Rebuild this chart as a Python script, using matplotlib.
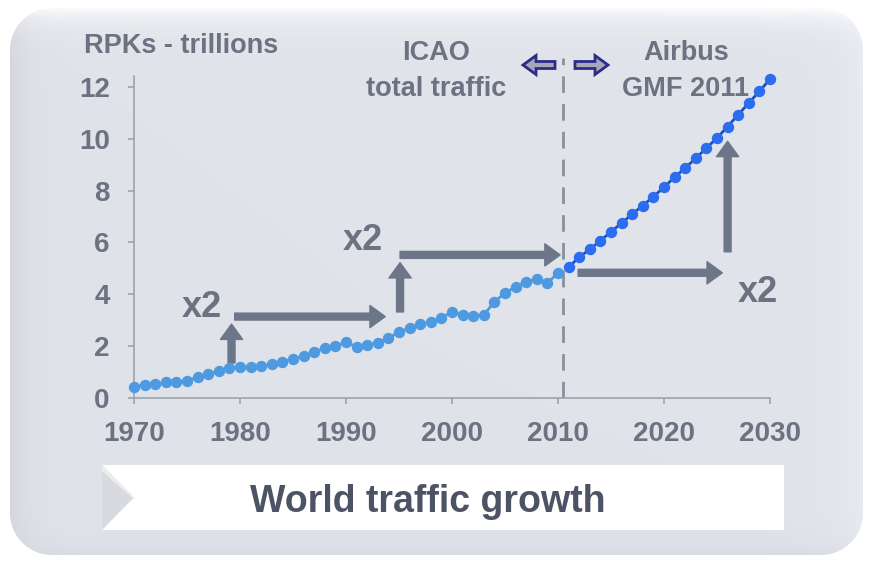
import numpy as np
import matplotlib
matplotlib.use("Agg")
import matplotlib.pyplot as plt
from matplotlib.patches import Polygon, Rectangle, FancyArrow

# ---------------- data ----------------
hist_years = list(range(1970, 2011))
hist_rpk = [0.43, 0.50, 0.55, 0.60, 0.63, 0.66, 0.80, 0.92, 1.05, 1.15,
            1.18, 1.20, 1.23, 1.30, 1.40, 1.52, 1.62, 1.78, 1.92, 2.00,
            2.15, 1.98, 2.05, 2.12, 2.33, 2.53, 2.70, 2.85, 2.93, 3.08,
            3.33, 3.20, 3.18, 3.20, 3.72, 4.04, 4.30, 4.49, 4.58, 4.45,
            4.81]
fc_years = list(range(2011, 2031))
fc_rpk = [5.05, 5.43, 5.74, 6.06, 6.42, 6.74, 7.10, 7.42, 7.77, 8.13,
          8.52, 8.87, 9.25, 9.64, 10.03, 10.47, 10.93, 11.38, 11.83, 12.30]
x_ticks = [1970, 1980, 1990, 2000, 2010, 2020, 2030]
y_ticks = [0, 2, 4, 6, 8, 10, 12]
y_label = "RPKs - trillions"
left_note = "ICAO\ntotal traffic"
right_note = "Airbus\nGMF 2011"
title = "World traffic growth"
factor_label = "x2"

FONT = ["Liberation Sans", "DejaVu Sans"]
GREY = "#6c7282"
ARROW = "#6d7588"

plt.rcParams["font.family"] = FONT
plt.rcParams["font.weight"] = "bold"

W, H = 870, 570
fig = plt.figure(figsize=(W / 100, H / 100), dpi=100)
fig.patch.set_facecolor("white")

# rounded panel with soft shading, placed pixel-for-pixel
px0, py0, pw, ph, rad = 10, 8, 853, 547, 42
yy, xx = np.mgrid[0:ph, 0:pw] + 0.5
base = np.array([224, 227, 233], float) / 255
img = np.ones((ph, pw, 3)) * base
top = np.exp(-yy / 14.0)[..., None]
img = img * (1 - top) + np.array([0.99, 0.99, 1.0]) * top
img = img - (np.exp(-xx / 18.0) * 0.05)[..., None]
img = img + (np.exp(-(pw - xx) / 25.0) * 0.03)[..., None]
img = img - (np.exp(-(ph - yy) / 12.0) * 0.03)[..., None]
img = np.clip(img, 0, 1)
cx = np.clip(xx, rad, pw - rad)
cy = np.clip(yy, rad, ph - rad)
dist = np.hypot(xx - cx, yy - cy)
alpha = np.clip(rad - dist + 0.5, 0, 1)
rgba = np.dstack([img, alpha])
fig.figimage(rgba, xo=px0, yo=H - py0 - ph, origin="upper", zorder=-1)

# ---------------- decorations (pixel coordinates) ----------------
bg = fig.add_axes([0, 0, 1, 1])
bg.set_xlim(0, W)
bg.set_ylim(H, 0)
bg.axis("off")

# title box
bx, by, bw, bh = 102, 465, 682, 65
bg.add_patch(Rectangle((bx, by), bw, bh, facecolor="white", edgecolor="none", zorder=2))
bg.add_patch(Polygon([(bx, by), (bx + 32, by + bh / 2), (bx, by + bh)],
                     closed=True, facecolor="#d9dadf", edgecolor="none", zorder=3))
bg.add_patch(Polygon([(bx, by), (bx + 32, by + bh / 2), (bx + 32, by + bh / 2 + 2), (bx, by + 6)],
                     closed=True, facecolor="#ececef", edgecolor="none", zorder=3))
bg.text(428, 512, title, ha="center", va="baseline", fontsize=27,
        fontweight="bold", color="#4c5364", zorder=4)

# header texts
bg.text(84, 53, y_label, ha="left", va="baseline", fontsize=19.5,
        fontweight="bold", color=GREY, zorder=4)
for i, line in enumerate(left_note.split("\n")):
    bg.text(436, 60 + 36 * i, line, ha="center", va="baseline", fontsize=19.5,
            fontweight="bold", color=GREY, zorder=4)
for i, line in enumerate(right_note.split("\n")):
    bg.text(686, 60 + 36 * i, line, ha="center", va="baseline", fontsize=19.5,
            fontweight="bold", color=GREY, zorder=4)

# small outlined direction arrows
for x0, dx in [(555, -32), (575, 33)]:
    bg.add_patch(FancyArrow(x0, 65, dx, 0, width=7, head_width=19, head_length=13,
                            length_includes_head=True, facecolor="#a6a8b8",
                            edgecolor="#2d2a88", linewidth=2, zorder=4))

# ---------------- main axes ----------------
ax_left, ax_right, ax_bottom, ax_top = 134, 770, 398, 75.5
ax = fig.add_axes([ax_left / W, 1 - ax_bottom / H,
                   (ax_right - ax_left) / W, (ax_bottom - ax_top) / H])
ax.patch.set_visible(False)
ax.set_xlim(1970, 2030)
ax.set_ylim(0, 12.44)
for s in ["top", "right"]:
    ax.spines[s].set_visible(False)
for s in ["left", "bottom"]:
    ax.spines[s].set_color("#9ea3ad")
    ax.spines[s].set_linewidth(1.2)
ax.set_xticks(x_ticks)
ax.set_yticks(y_ticks)
ax.tick_params(axis="both", direction="out", length=4.5, width=1.2, color="#9ea3ad",
               labelsize=20, labelcolor=GREY)
ax.tick_params(axis="x", pad=12)
ax.tick_params(axis="y", pad=13)
for lab in ax.get_xticklabels() + ax.get_yticklabels():
    lab.set_fontweight("bold")

# dashed separator
ax.plot([2010.5, 2010.5], [0, 13.1], color="#8a8f99", lw=2, dashes=(6, 4),
        clip_on=False, zorder=2)

# series
ax.plot(hist_years, hist_rpk, color="#4d9ae0", lw=2, marker="o", ms=7.2,
        mec="#4d9ae0", mfc="#4d9ae0", clip_on=False, zorder=4)
ax.plot(fc_years, fc_rpk, color="#1b4fbf", lw=2, marker="o", ms=7.2,
        mec="#2c6df0", mfc="#2c6df0", clip_on=False, zorder=4)

# doubling arrows
arrows = [((1979.2, 1.35), (1979.2, 2.85)),
          ((1979.5, 3.14), (1993.7, 3.14)),
          ((1995.1, 3.32), (1995.1, 5.22)),
          ((1995.1, 5.52), (2010.2, 5.52)),
          ((2011.9, 4.83), (2025.5, 4.83)),
          ((2026.0, 5.64), (2026.0, 9.90))]
for start, end in arrows:
    ax.annotate("", xy=end, xytext=start,
                arrowprops=dict(arrowstyle="simple,head_width=1.6,head_length=1.1,tail_width=0.5",
                                mutation_scale=10, color=ARROW, shrinkA=0, shrinkB=0),
                zorder=3, annotation_clip=False)

for (x, y) in [(1976.4, 3.13), (1991.6, 5.71), (2028.9, 3.70)]:
    ax.text(x, y, factor_label, ha="center", va="baseline", fontsize=26,
            fontweight="bold", color=GREY, zorder=5)

fig.savefig("out.png", dpi=100, facecolor="white")
